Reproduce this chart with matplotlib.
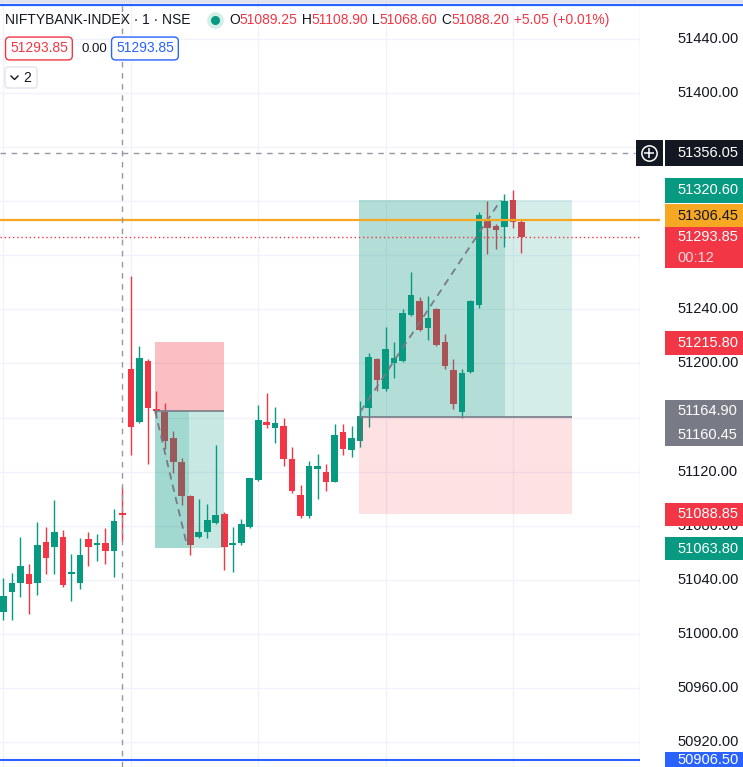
import numpy as np
import matplotlib
matplotlib.use("Agg")
import matplotlib.pyplot as plt
import matplotlib.transforms as mtransforms
from matplotlib.patches import Rectangle, FancyBboxPatch
from matplotlib.lines import Line2D

plt.rcParams['font.family'] = ['Liberation Sans', 'DejaVu Sans']

# 1 minute bars
opens = [51016, 51031, 51038, 51044, 51038, 51068, 51064, 51072, 51044, 51038,
         51070, 51066, 51067, 51061, 51089.25, 51196, 51157, 51202, 51166, 51164,
         51145, 51127, 51102, 51072, 51075, 51082, 51089, 51066, 51067, 51079,
         51114, 51156, 51152, 51154, 51129, 51103, 51087, 51122, 51120, 51112,
         51149, 51136, 51143, 51167, 51203, 51181, 51200, 51202, 51236, 51246,
         51226, 51240, 51216, 51195, 51164, 51194, 51243, 51306, 51302, 51301,
         51321, 51305]
highs = [51041, 51045, 51072, 51052, 51083, 51079, 51099, 51077, 51059, 51071,
         51075, 51074, 51078, 51092, 51108.90, 51265, 51213, 51203, 51180, 51171,
         51150, 51130, 51103, 51100, 51096, 51140, 51090, 51079, 51085, 51115,
         51169, 51178, 51168, 51160, 51138, 51110, 51128, 51133, 51126, 51155,
         51155, 51154, 51172, 51208, 51204, 51227, 51216, 51240, 51268, 51249,
         51250, 51241, 51222, 51203, 51196, 51247, 51312, 51320, 51303, 51325,
         51328, 51306]
lows = [51010, 51010, 51027, 51015, 51029, 51044, 51044, 51035, 51024, 51033,
        51050, 51054, 51052, 51042, 51068.60, 51132, 51156, 51126, 51160, 51137,
        51119, 51095, 51058, 51071, 51071, 51081, 51047, 51046, 51066, 51078,
        51113, 51152, 51141, 51124, 51104, 51086, 51086, 51100, 51106, 51112,
        51132, 51131, 51138, 51153, 51180, 51180, 51189, 51201, 51235, 51224,
        51217, 51213, 51196, 51166, 51160, 51193, 51241, 51281, 51285, 51286,
        51300, 51282]
closes = [51028, 51038, 51050, 51037, 51066, 51056, 51075, 51036, 51046, 51058,
          51064, 51067, 51061, 51083.15, 51088.20, 51153, 51204, 51167, 51164.90, 51143,
          51127, 51102, 51066, 51075, 51084, 51088, 51064, 51067, 51081, 51115,
          51158, 51155, 51156, 51129, 51106, 51087, 51124, 51124, 51112, 51147,
          51137, 51145, 51161, 51205, 51188, 51211, 51204, 51237, 51251, 51225,
          51234, 51214, 51198, 51170, 51193, 51246, 51310, 51300, 51299, 51320,
          51305, 51293.85]

price_ticks = [51440, 51400, 51360, 51320, 51280, 51240, 51200, 51160,
               51120, 51080, 51040, 51000, 50960, 50920]
# ticks whose labels sit behind the coloured price boxes
hidden_ticks = [51360, 51320, 51280, 51160]
grid_bars = [0, 15, 30, 45, 60]

# short position tool (left) and long position tool (right)
short_entry, short_stop, short_target = 51164.90, 51215.80, 51063.80
short_start, short_exit, short_end = 17.85, 21.85, 26.0
long_entry, long_target, long_stop = 51160.45, 51320.60, 51088.85
long_start, long_exit, long_end = 41.85, 59.05, 66.95

crosshair_bar = 14
crosshair_price = 51356.05
alert_price = 51306.45
last_price = 51293.85
top_line = 51465.0
bottom_line = 50906.50

W, H = 743, 767
PLOT_W = 640
GREEN = '#089981'
RED = '#f23645'
ORANGE = '#f7a823'
GRAY = '#787b86'
BLUE = '#2962ff'
DARK = '#131722'
GRID = '#f0f3fa'

fig = plt.figure(figsize=(W / 100, H / 100), dpi=100)
ax = fig.add_axes([0, 0, PLOT_W / W, 1])
ymin, ymax = 50901.54, 51468.85
ax.set_xlim(-0.41, 74.97)
ax.set_ylim(ymin, ymax)
for s in ax.spines.values():
    s.set_visible(False)
ax.set_xticks([])
ax.set_yticks([])

# grid
for p in price_ticks:
    ax.axhline(p, color=GRID, lw=1, zorder=0)
for b in grid_bars:
    ax.axvline(b, color=GRID, lw=1, zorder=0)
ax.axvline(74.97, color='#e0e3eb', lw=1, zorder=0)

# candles
o = np.array(opens)
h = np.array(highs)
l = np.array(lows)
c = np.array(closes)
x = np.arange(len(o))
cols = np.where(c >= o, GREEN, RED)
ax.vlines(x, l, h, colors=cols, lw=1, zorder=2)
body = np.abs(c - o)
mid = (o + c) / 2
body_h = np.maximum(body, 1.8)
ax.bar(x, body_h, bottom=mid - body_h / 2, width=0.78, color=cols, lw=0, zorder=2)

# short position
ax.add_patch(Rectangle((short_start, short_entry), short_end - short_start,
                       short_stop - short_entry, fc=RED, alpha=0.32, lw=0, zorder=3))
ax.add_patch(Rectangle((short_start, short_target), short_end - short_start,
                       short_entry - short_target, fc=GREEN, alpha=0.22, lw=0, zorder=3))
ax.add_patch(Rectangle((short_start, short_target), short_exit - short_start,
                       short_entry - short_target, fc=GREEN, alpha=0.2, lw=0, zorder=3))
ax.hlines(short_entry, short_start, short_end, color=GRAY, lw=1.2, zorder=3)
ax.plot([short_start, short_exit - 0.25], [short_entry, short_target + 2],
        color=GRAY, lw=1.3, ls=(0, (4, 3)), zorder=3)

# long position
ax.add_patch(Rectangle((long_start, long_stop), long_end - long_start,
                       long_entry - long_stop, fc=RED, alpha=0.15, lw=0, zorder=3))
ax.add_patch(Rectangle((long_start, long_entry), long_end - long_start,
                       long_target - long_entry, fc=GREEN, alpha=0.17, lw=0, zorder=3))
ax.add_patch(Rectangle((long_start, long_entry), long_exit - long_start,
                       long_target - long_entry, fc=GREEN, alpha=0.17, lw=0, zorder=3))
ax.hlines(long_entry, long_start, long_end, color=GRAY, lw=1.2, zorder=3)
ax.plot([long_start + 0.2, long_exit - 0.5], [long_entry + 4, long_target],
        color=GRAY, lw=1.3, ls=(0, (4, 3)), zorder=3)

# horizontal lines and crosshair
ax.axhline(alert_price, xmax=1.03, color=ORANGE, lw=1.6, zorder=4, clip_on=False)
ax.axhline(last_price, color=RED, lw=1, ls=(0, (1, 2)), zorder=4)
ax.axhline(bottom_line, color=BLUE, lw=1.5, zorder=4)
ax.axhline(top_line, xmax=W / PLOT_W, color=BLUE, lw=1.6, zorder=4, clip_on=False)
ax.axvline(crosshair_bar, color='#9598a1', lw=1, ls=(0, (4, 4)), zorder=4)
ax.axhline(crosshair_price, xmax=635 / PLOT_W, color='#9598a1', lw=1,
           ls=(0, (4, 4)), zorder=4)

# price scale
trans = mtransforms.blended_transform_factory(ax.transAxes, ax.transData)
ppp = (ymax - ymin) / H
for p in price_ticks:
    if p in hidden_ticks:
        continue
    ax.text(677 / PLOT_W, p, f"{p:.2f}", transform=trans, ha='left', va='center',
            fontsize=10.5, color=DARK, clip_on=False, zorder=4)

labels = [
    (crosshair_price, ['51356.05'], DARK, 'white', -12.5, 13.5, [0]),
    (long_target, ['51320.60'], GREEN, 'white', -22.5, 2.6, [-10]),
    (alert_price, ['51306.45'], ORANGE, DARK, -15.6, 7.4, [-4]),
    (last_price, ['51293.85', '00:12'], RED, 'white', -9.6, 31.4, [0, 21]),
    (short_stop, ['51215.80'], RED, 'white', -11, 13, [1]),
    (short_entry, ['51164.90', '51160.45'], GRAY, 'white', -11, 35, [0, 24]),
    (long_stop, ['51088.85'], RED, 'white', -11, 12, [0.5]),
    (short_target, ['51063.80'], GREEN, 'white', -10.6, 12.4, [1]),
    (bottom_line, ['50906.50'], BLUE, 'white', -8.3, 9, [0]),
]
for price, lines, fc, tc, top, bot, dys in labels:
    ax.add_patch(Rectangle((665 / PLOT_W, price - bot * ppp), (W - 665) / PLOT_W,
                           (bot - top) * ppp, transform=trans, fc=fc, lw=0,
                           clip_on=False, zorder=5))
    for txt, dy in zip(lines, dys):
        ax.text(677 / PLOT_W, price - dy * ppp, txt, transform=trans, ha='left',
                va='center', fontsize=10.5, color=tc,
                alpha=0.8 if txt == '00:12' else 1, clip_on=False, zorder=6)

# crosshair "+" button
ax.add_patch(Rectangle((636 / PLOT_W, crosshair_price - 13.5 * ppp), 27 / PLOT_W, 26 * ppp,
                       transform=trans, fc=DARK, lw=0, clip_on=False, zorder=5))
ax.plot([649 / PLOT_W], [crosshair_price], transform=trans, marker='o', ms=11,
        mfc='none', mec='white', mew=1.1, clip_on=False, zorder=6)
ax.plot([649 / PLOT_W], [crosshair_price], transform=trans, marker='+', ms=7,
        mec='white', mew=1.1, clip_on=False, zorder=6)

# top strip
fig.add_artist(Rectangle((0, 1 - 3 / H), 1, 3 / H, transform=fig.transFigure,
                         fc='#e0e3eb', lw=0))


def fx(px):
    return px / W


def fy(py):
    return 1 - py / H


# legend
fig.text(fx(5), fy(20), 'NIFTYBANK-INDEX · 1 · NSE', ha='left', va='center',
         fontsize=10, color=DARK)
fig.add_artist(Line2D([fx(215)], [fy(20)], marker='o', ms=11, color='#d4eee9',
                      transform=fig.transFigure))
fig.add_artist(Line2D([fx(215)], [fy(20)], marker='o', ms=5.5, color=GREEN,
                      transform=fig.transFigure))

renderer = fig.canvas.get_renderer()
pieces = [('O', DARK), ('51089.25', RED), (' H', DARK), ('51108.90', RED),
          (' L', DARK), ('51068.60', RED), (' C', DARK), ('51088.20', RED),
          (' +5.05 (+0.01%)', RED)]
cur = 229
for txt, col in pieces:
    t = fig.text(fx(cur), fy(20), txt, ha='left', va='center', fontsize=10, color=col)
    cur += t.get_window_extent(renderer).width

fig.text(fx(10), fy(48.5), '51293.85', ha='left', va='center', fontsize=10, color=RED,
         bbox=dict(boxstyle='round,pad=0.32,rounding_size=0.3', fc='white', ec=RED, lw=1))
fig.text(fx(82), fy(48.5), '0.00', ha='left', va='center', fontsize=9.5, color=DARK)
fig.text(fx(116), fy(48.5), '51293.85', ha='left', va='center', fontsize=10, color=BLUE,
         bbox=dict(boxstyle='round,pad=0.32,rounding_size=0.3', fc='white', ec=BLUE, lw=1))

fig.add_artist(FancyBboxPatch((fx(5), fy(88)), 32 / W, 21 / H, transform=fig.transFigure,
                              boxstyle='round,pad=0,rounding_size=0.004', fc='white',
                              ec='#e0e3eb', lw=1))
fig.add_artist(Line2D([fx(11), fx(14.5), fx(18)], [fy(76), fy(79.5), fy(76)],
                      color=DARK, lw=1, transform=fig.transFigure))
fig.text(fx(23), fy(78), '2', ha='left', va='center', fontsize=10, color=DARK)

fig.savefig('out.png', dpi=100)
